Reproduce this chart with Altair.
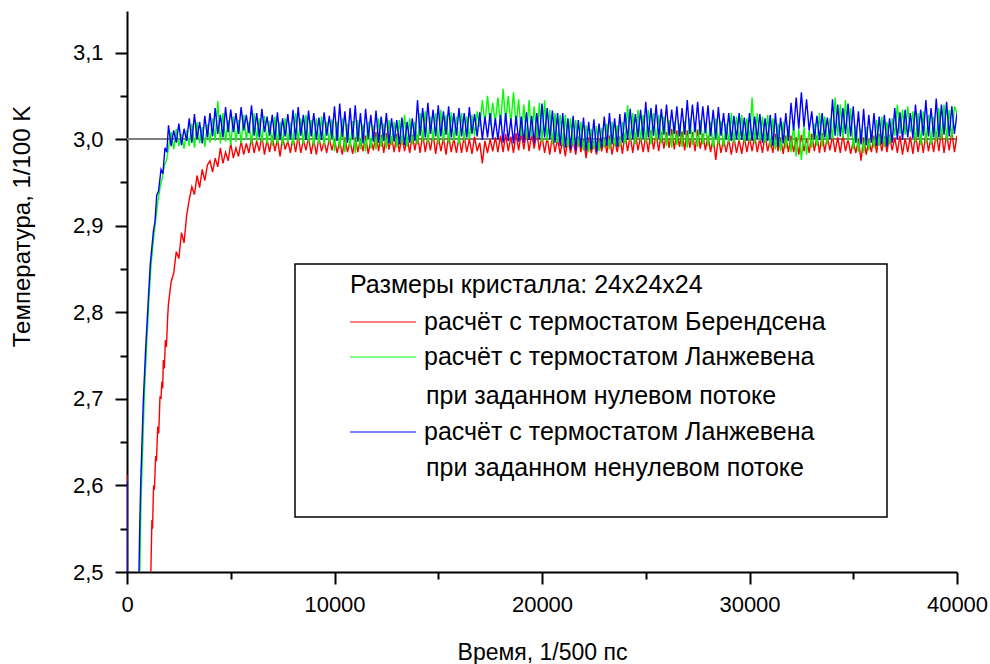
import altair as alt
import pandas as pd

# ---------------------------------------------------------------------------
# Temperature (1/100 K) versus time (1/500 ps), crystal 24x24x24
# ---------------------------------------------------------------------------

# common sampling of the steady-state part of every run (step 125)
steady_time = list(range(2000, 40001, 125))

# Berendsen thermostat (red)
berendsen_rise_time = [0, 20, 1000, 1150, 1200, 1230, 1280, 1320, 1380, 1420, 1480, 1530, 1590,
                       1640, 1680, 1720, 1750, 1800, 1850, 1900, 1960]
berendsen_rise_temp = [2.612, 2.2, 2.4, 2.5, 2.56, 2.55, 2.6, 2.595, 2.634, 2.628, 2.668, 2.66, 2.703,
                       2.7, 2.72, 2.712, 2.745, 2.735, 2.768, 2.76, 2.795]
berendsen_temp = [
    2.81, 2.835, 2.845, 2.87, 2.862, 2.892, 2.88, 2.912,
    2.93, 2.945, 2.936, 2.958, 2.944, 2.965, 2.952, 2.97,
    2.975, 2.962, 2.978, 2.968, 2.99, 2.972, 2.985, 2.975,
    2.995, 2.978, 2.99, 2.98, 2.998, 2.982, 2.995, 2.984,
    3.002, 2.984, 2.998, 2.986, 3.004, 2.982, 2.999, 2.985,
    3.004, 2.986, 3.0, 2.98, 3.002, 2.988, 2.998, 2.984,
    3.002, 2.985, 3.004, 2.984, 2.999, 2.987, 3.003, 2.983,
    3.0, 2.982, 3.002, 2.986, 2.998, 2.984, 3.001, 2.987,
    3.0, 2.984, 2.998, 2.982, 3.002, 2.985, 2.997, 2.983,
    3.002, 2.985, 3.0, 2.986, 3.004, 2.983, 2.999, 2.987,
    3.008, 2.986, 3.005, 2.984, 3.007, 2.988, 3.003, 2.985,
    3.006, 2.985, 3.004, 2.986, 3.002, 2.984, 3.005, 2.987,
    3.005, 2.984, 3.006, 2.985, 3.003, 2.987, 3.007, 2.983,
    3.004, 2.986, 3.002, 2.982, 3.005, 2.985, 3.001, 2.984,
    3.002, 2.984, 3.004, 2.985, 3.0, 2.983, 3.003, 2.986,
    2.996, 2.972, 2.998, 2.984, 3.0, 2.986, 3.002, 2.985,
    3.004, 2.985, 3.006, 2.986, 3.003, 2.984, 3.007, 2.987,
    3.008, 2.988, 3.01, 2.986, 3.006, 2.989, 3.009, 2.987,
    3.004, 2.984, 3.002, 2.982, 3.005, 2.985, 3.0, 2.983,
    3.0, 2.98, 3.002, 2.984, 2.999, 2.982, 3.003, 2.985,
    3.0, 2.978, 3.002, 2.984, 2.998, 2.982, 3.001, 2.986,
    3.002, 2.984, 3.004, 2.982, 3.0, 2.985, 3.003, 2.983,
    3.006, 2.986, 3.004, 2.984, 3.007, 2.987, 3.003, 2.985,
    3.004, 2.985, 3.01, 2.988, 3.006, 2.986, 3.008, 2.989,
    3.008, 2.99, 3.012, 2.988, 3.01, 2.991, 3.009, 2.987,
    3.01, 2.99, 3.008, 2.986, 3.011, 2.989, 3.006, 2.987,
    3.004, 2.985, 3.002, 2.976, 3.003, 2.984, 3.0, 2.985,
    3.0, 2.982, 3.002, 2.984, 2.999, 2.983, 3.003, 2.985,
    3.002, 2.986, 3.004, 2.985, 3.001, 2.984, 3.005, 2.986,
    3.0, 2.984, 3.006, 2.986, 3.002, 2.983, 3.004, 2.985,
    3.004, 2.985, 3.002, 2.982, 3.005, 2.986, 3.001, 2.984,
    3.006, 2.986, 3.004, 2.984, 3.007, 2.985, 3.003, 2.987,
    3.004, 2.985, 3.002, 2.984, 3.005, 2.986, 3.0, 2.983,
    2.998, 2.984, 3.0, 2.975, 3.002, 2.982, 2.999, 2.985,
    3.004, 2.984, 3.006, 2.986, 3.003, 2.985, 3.005, 2.987,
    3.002, 2.984, 3.004, 2.982, 3.001, 2.985, 3.003, 2.983,
    3.006, 2.985, 3.004, 2.984, 3.007, 2.986, 3.002, 2.985,
    3.008, 2.986, 3.01, 2.984, 3.006, 2.987, 3.009, 2.985,
    3.004,
]

# Langevin thermostat, zero heat flux (green)
langevin_zero_rise_time = [500, 620, 650, 700, 780, 830, 940, 1060, 1160, 1300, 1470, 1600, 1700, 1800, 1900]
langevin_zero_rise_temp = [2.3, 2.5, 2.55, 2.6, 2.66, 2.7, 2.76, 2.815, 2.855, 2.89, 2.925, 2.945, 2.955, 2.97, 2.975]
langevin_zero_temp = [
    2.99, 3.008, 2.988, 3.012, 2.992, 3.006, 2.989, 3.01,
    2.992, 3.018, 2.99, 3.02, 2.995, 3.014, 2.991, 3.017,
    2.996, 3.024, 2.998, 3.044, 2.995, 3.03, 2.997, 3.022,
    2.993, 3.026, 2.997, 3.022, 2.995, 3.028, 2.999, 3.02,
    2.994, 3.03, 2.998, 3.024, 2.996, 3.027, 2.995, 3.021,
    2.992, 3.026, 2.995, 3.02, 2.993, 3.024, 2.996, 3.019,
    2.993, 3.03, 2.997, 3.024, 2.994, 3.028, 2.996, 3.022,
    2.992, 3.024, 2.995, 3.026, 2.993, 3.02, 2.996, 3.023,
    2.986, 3.02, 2.989, 3.024, 2.985, 3.018, 2.99, 3.021,
    2.984, 3.022, 2.988, 3.017, 2.986, 3.02, 2.989, 3.016,
    2.988, 3.024, 2.991, 3.018, 2.989, 3.022, 2.993, 3.02,
    2.99, 3.022, 2.993, 3.028, 2.991, 3.024, 2.994, 3.02,
    2.994, 3.03, 2.997, 3.032, 2.995, 3.026, 2.998, 3.03,
    2.994, 3.034, 2.997, 3.028, 2.995, 3.031, 2.998, 3.026,
    2.994, 3.03, 2.998, 3.026, 3.0, 3.028, 3.004, 3.032,
    3.014, 3.045, 3.018, 3.05, 3.016, 3.042, 3.02, 3.048,
    3.016, 3.058, 3.02, 3.05, 3.018, 3.054, 3.015, 3.046,
    3.004, 3.04, 3.0, 3.045, 3.003, 3.038, 3.001, 3.042,
    2.996, 3.045, 2.998, 3.034, 2.994, 3.03, 2.996, 3.028,
    2.992, 3.028, 2.99, 3.024, 2.993, 3.022, 2.991, 3.02,
    2.987, 3.016, 2.985, 3.012, 2.988, 3.015, 2.986, 3.013,
    2.99, 3.018, 2.988, 3.02, 2.992, 3.016, 2.991, 3.02,
    2.995, 3.039, 2.997, 3.03, 2.994, 3.034, 2.998, 3.028,
    2.996, 3.034, 2.994, 3.03, 2.997, 3.028, 2.995, 3.026,
    2.992, 3.022, 2.99, 3.02, 2.993, 3.018, 2.991, 3.021,
    2.99, 3.024, 2.993, 3.02, 2.991, 3.022, 2.994, 3.019,
    2.992, 3.02, 2.99, 3.024, 2.993, 3.021, 2.991, 3.018,
    2.996, 3.03, 2.995, 3.026, 2.998, 3.028, 2.996, 3.024,
    2.997, 3.048, 2.995, 3.03, 2.998, 3.026, 2.996, 3.028,
    2.99, 3.024, 2.988, 3.018, 2.986, 3.02, 2.989, 3.016,
    2.985, 3.016, 2.98, 3.012, 2.976, 3.014, 2.982, 3.01,
    2.99, 3.018, 2.992, 3.03, 2.991, 3.026, 2.994, 3.024,
    3.0, 3.048, 3.003, 3.04, 3.001, 3.045, 2.998, 3.036,
    2.988, 3.016, 2.985, 3.012, 2.984, 3.014, 2.987, 3.01,
    2.99, 3.022, 2.992, 3.026, 2.991, 3.02, 2.994, 3.024,
    3.004, 3.04, 3.006, 3.034, 3.005, 3.038, 3.008, 3.032,
    2.996, 3.03, 2.993, 3.032, 2.995, 3.028, 2.994, 3.026,
    2.997, 3.036, 3.0, 3.04, 2.998, 3.034, 3.001, 3.038,
    3.03,
]

# Langevin thermostat, non-zero heat flux (blue)
langevin_flux_rise_time = [0, 20, 500, 578, 610, 660, 740, 790, 900, 1030, 1120, 1270, 1350, 1430, 1520, 1640, 1730, 1830, 1920]
langevin_flux_rise_temp = [2.605, 2.2, 2.3, 2.5, 2.548, 2.602, 2.663, 2.7, 2.758, 2.816, 2.855, 2.893, 2.905, 2.935, 2.94, 2.965, 2.96, 2.99, 2.985]
langevin_flux_temp = [
    3.016, 2.992, 3.01, 2.996, 3.018, 2.993, 3.012, 2.998,
    3.024, 2.996, 3.029, 3.0, 3.02, 2.995, 3.027, 3.002,
    3.03, 3.003, 3.036, 3.006, 3.028, 3.002, 3.037, 3.008,
    3.034, 3.008, 3.03, 3.006, 3.037, 3.01, 3.028, 3.007,
    3.039, 3.004, 3.03, 3.002, 3.035, 3.008, 3.026, 3.004,
    3.028, 3.0, 3.031, 2.999, 3.024, 3.003, 3.029, 3.0,
    3.034, 3.0, 3.037, 3.004, 3.028, 2.999, 3.033, 3.003,
    3.03, 3.0, 3.025, 2.999, 3.031, 3.004, 3.027, 3.001,
    3.038, 2.998, 3.041, 3.002, 3.032, 2.996, 3.036, 3.0,
    3.039, 2.997, 3.03, 2.995, 3.035, 3.001, 3.028, 2.997,
    3.033, 2.996, 3.026, 2.998, 3.03, 2.995, 3.024, 2.997,
    3.022, 2.994, 3.025, 2.993, 3.02, 2.996, 3.024, 2.998,
    3.045, 3.004, 3.036, 3.002, 3.042, 3.006, 3.034, 3.003,
    3.039, 3.003, 3.032, 3.005, 3.038, 3.002, 3.03, 3.004,
    3.036, 3.003, 3.03, 3.002, 3.037, 3.006, 3.029, 3.003,
    3.031, 2.999, 3.026, 3.002, 3.03, 3.0, 3.024, 2.999,
    3.028, 2.996, 3.03, 2.998, 3.024, 2.995, 3.027, 2.997,
    3.026, 2.996, 3.031, 2.999, 3.027, 2.995, 3.03, 3.0,
    3.041, 3.002, 3.036, 3.0, 3.033, 2.996, 3.03, 2.992,
    3.03, 2.99, 3.024, 2.988, 3.027, 2.987, 3.022, 2.99,
    3.025, 2.986, 3.02, 2.988, 3.023, 2.985, 3.018, 2.99,
    3.026, 2.992, 3.03, 2.994, 3.024, 2.991, 3.029, 2.996,
    3.031, 2.999, 3.035, 3.0, 3.029, 3.002, 3.034, 3.001,
    3.043, 3.002, 3.036, 3.004, 3.04, 3.001, 3.035, 3.005,
    3.04, 3.004, 3.034, 3.006, 3.038, 3.003, 3.036, 3.005,
    3.045, 3.006, 3.04, 3.008, 3.043, 3.005, 3.038, 3.007,
    3.039, 3.003, 3.034, 3.001, 3.037, 3.004, 3.03, 3.0,
    3.03, 2.998, 3.027, 3.0, 3.03, 2.999, 3.025, 2.998,
    3.03, 2.998, 3.026, 3.0, 3.029, 2.996, 3.024, 2.998,
    3.028, 2.992, 3.03, 2.991, 3.025, 2.995, 3.03, 2.998,
    3.042, 3.01, 3.048, 3.012, 3.054, 3.014, 3.046, 3.01,
    3.032, 3.0, 3.027, 2.999, 3.03, 3.002, 3.025, 3.0,
    3.046, 3.004, 3.04, 3.003, 3.036, 3.006, 3.041, 3.003,
    3.038, 2.996, 3.032, 2.994, 3.035, 2.993, 3.028, 2.996,
    3.03, 2.992, 3.026, 2.994, 3.028, 2.991, 3.024, 2.996,
    3.036, 3.0, 3.031, 2.999, 3.034, 3.002, 3.03, 3.001,
    3.04, 3.002, 3.034, 3.004, 3.045, 3.003, 3.036, 3.002,
    3.047, 3.002, 3.04, 3.005, 3.043, 3.003, 3.038, 3.006,
    3.03,
]

# axis ticks (major every 10000 / 0.1, minor halfway)
x_ticks = [0, 5000, 10000, 15000, 20000, 25000, 30000, 35000, 40000]
y_ticks = [2.5, 2.55, 2.6, 2.65, 2.7, 2.75, 2.8, 2.85, 2.9, 2.95, 3.0, 3.05, 3.1]
target_temp = 3.0

legend_header = "Размеры кристалла: 24x24x24"
label_berendsen = "расчёт с термостатом Берендсена"
label_langevin = "расчёт с термостатом Ланжевена"
label_zero_flux = "при заданном нулевом потоке"
label_nonzero_flux = "при заданном ненулевом потоке"

FONT = "Liberation Sans"
LEGEND_SIZE = 25


def run_frame(rise_t, rise_v, steady_v):
    assert len(rise_t) == len(rise_v)
    assert len(steady_v) == len(steady_time)
    return pd.DataFrame({"t": rise_t + steady_time, "T": rise_v + steady_v})


berendsen = run_frame(berendsen_rise_time, berendsen_rise_temp, berendsen_temp)
langevin_zero = run_frame(langevin_zero_rise_time, langevin_zero_rise_temp, langevin_zero_temp)
langevin_flux = run_frame(langevin_flux_rise_time, langevin_flux_rise_temp, langevin_flux_temp)

x_scale = alt.Scale(domain=[0, 40000], nice=False, zero=False)
y_scale = alt.Scale(domain=[2.5, 3.148], nice=False, zero=False)

x_axis = alt.Axis(
    values=x_ticks,
    labelExpr="datum.value % 10000 == 0 ? format(datum.value, 'd') : ''",
    tickSize={"condition": {"test": "datum.value % 10000 != 0", "value": 7}, "value": 12},
    labelPadding=10,
    labelFontSize=22,
    labelFlush=False,
    labelOverlap=False,
    title="Время, 1/500 пс",
    titleFontSize=23,
    titleFontWeight="normal",
    titleY=80,
    titleBaseline="middle",
)
y_axis = alt.Axis(
    values=y_ticks,
    labelExpr="round(datum.value * 20) % 2 == 0 ? replace(format(datum.value, '.1f'), '.', ',') : ''",
    tickSize={"condition": {"test": "round(datum.value * 20) % 2 == 1", "value": 7}, "value": 12},
    labelPadding=12,
    labelFontSize=22,
    labelFlush=False,
    labelOverlap=False,
    title="Температура, 1/100 K",
    titleFontSize=24,
    titleFontWeight="normal",
    titleAngle=270,
    titleX=-105,
    titleY=215,
    titleAlign="center",
    titleBaseline="middle",
)

X = alt.X("t:Q", scale=x_scale, axis=x_axis)
Y = alt.Y("T:Q", scale=y_scale, axis=y_axis)

target_rule = alt.Chart(berendsen).mark_rule(color="#7f7f7f", strokeWidth=1.5).encode(
    y=alt.Y(datum=target_temp, scale=y_scale, axis=y_axis)
)


def run_line(df, color):
    return alt.Chart(df).mark_line(color=color, strokeWidth=1.4, clip=True).encode(x=X, y=Y)


# legend drawn as a framed box inside the plot
one = alt.Data(values=[{}])
legend_layers = [
    alt.Chart(one).mark_rect(fill="white", stroke="black", strokeWidth=1.5).encode(
        x=alt.value(168), x2=alt.value(760), y=alt.value(253), y2=alt.value(506)
    ),
    alt.Chart(one).mark_text(text=legend_header, align="left", baseline="middle",
                             font=FONT, fontSize=LEGEND_SIZE, color="black").encode(
        x=alt.value(223), y=alt.value(274)
    ),
]
for color, ypos in [("#ff0000", 311), ("#00ff00", 346), ("#0000ff", 421)]:
    legend_layers.append(
        alt.Chart(one).mark_rule(color=color, strokeWidth=1).encode(
            x=alt.value(223), x2=alt.value(289), y=alt.value(ypos)
        )
    )
for text, xpos, ypos in [
    (label_berendsen, 297, 311),
    (label_langevin, 297, 346),
    (label_zero_flux, 299, 385),
    (label_langevin, 297, 421),
    (label_nonzero_flux, 299, 457),
]:
    legend_layers.append(
        alt.Chart(one).mark_text(text=text, align="left", baseline="middle",
                                 font=FONT, fontSize=LEGEND_SIZE, color="black").encode(
            x=alt.value(xpos), y=alt.value(ypos)
        )
    )

chart = alt.layer(
    target_rule,
    run_line(berendsen, "#ff0000"),
    run_line(langevin_zero, "#00ff00"),
    run_line(langevin_flux, "#0000ff"),
    *legend_layers,
).properties(
    width=830,
    height=561,
    autosize=alt.AutoSizeParams(type="none"),
    padding={"left": 127, "top": 11, "right": 33, "bottom": 92},
    background="white",
).configure_view(
    stroke=None
).configure_axis(
    grid=False,
    domainColor="black",
    domainWidth=2,
    tickColor="black",
    tickWidth=2,
    labelColor="black",
    titleColor="black",
    labelFont=FONT,
    titleFont=FONT,
)

chart.save("out.html", embed_options={"renderer": "svg", "actions": False})
